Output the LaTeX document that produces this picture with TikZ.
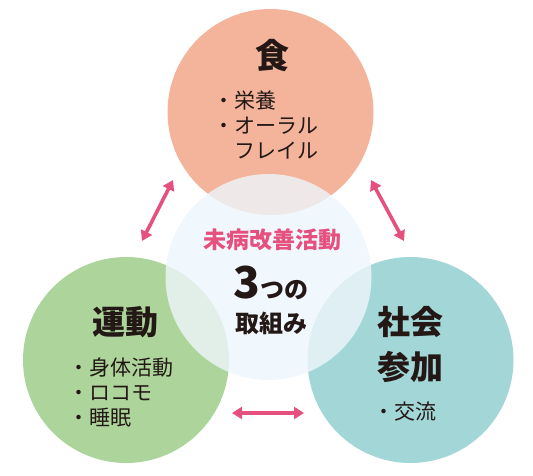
\documentclass[tikz,border=0pt]{standalone}
\usepackage{fontspec}
\setmainfont{Noto Sans CJK JP}
\usetikzlibrary{arrows.meta}
\definecolor{foodc}{HTML}{F4B49C}
\definecolor{movec}{HTML}{ADD59B}
\definecolor{socc}{HTML}{A3D7D7}
\definecolor{midc}{HTML}{EEF6FC}
\definecolor{inkc}{HTML}{231815}
\definecolor{pinkc}{HTML}{E6507E}
\tikzset{
  bigcirc/.style={circle, inner sep=0pt, minimum size=206pt},
  headtxt/.style={inner sep=0pt, text=inkc, font=\fontsize{33}{45}\selectfont\bfseries, align=center},
  itemtxt/.style={inner sep=0pt, text=inkc, font=\fontsize{21}{25}\selectfont, align=left, anchor=west},
  dbl/.style={{Triangle[length=10pt,width=12pt]}-{Triangle[length=10pt,width=12pt]}, line width=3.6pt, draw=pinkc}
}
\begin{document}
\begin{tikzpicture}[x=1pt,y=-1pt]
\useasboundingbox (0,0) rectangle (533,475);
% circles
\node[bigcirc, fill=foodc] (food) at (270.5,112) {};
\node[bigcirc, fill=movec] (move) at (126,360) {};
\node[bigcirc, fill=socc] (soc) at (410.5,360) {};
\node[bigcirc, fill=midc, fill opacity=0.8] (mid) at (268.5,277) {};
% food text
\node[headtxt, font=\fontsize{34}{40}\selectfont\bfseries] (foodh) at (272,56) {食};
\node[itemtxt] (foodi) at (213,125) {・栄養\\・オーラル\\\hphantom{・}フレイル};
% exercise text
\node[headtxt] (moveh) at (125,322) {運動};
\node[itemtxt] (movei) at (68,392) {・身体活動\\・ロコモ\\・睡眠};
% social text
\node[headtxt] (soch) at (410,344.5) {社会\\参加};
\node[itemtxt] (soci) at (373,412) {・交流};
% center text
\node[inner sep=0pt, text=pinkc, font=\fontsize{23}{23}\selectfont\bfseries] (midt) at (272,240) {未病改善活動};
\node[inner sep=0pt, text=inkc, anchor=base] (three) at (271,298) {{\fontsize{44}{44}\selectfont\bfseries 3}{\fontsize{24}{24}\selectfont\bfseries つの}};
\node[inner sep=0pt, text=inkc, font=\fontsize{24}{24}\selectfont\bfseries] (torikumi) at (271,323) {取組み};
% arrows
\coordinate (a1) at (142,241);
\coordinate (a2) at (173,180);
\coordinate (b1) at (371,180);
\coordinate (b2) at (404,241);
\coordinate (c1) at (232,413);
\coordinate (c2) at (304,413);
\draw[dbl] (a1) -- (a2);
\draw[dbl] (b1) -- (b2);
\draw[dbl] (c1) -- (c2);
\end{tikzpicture}
\end{document}
